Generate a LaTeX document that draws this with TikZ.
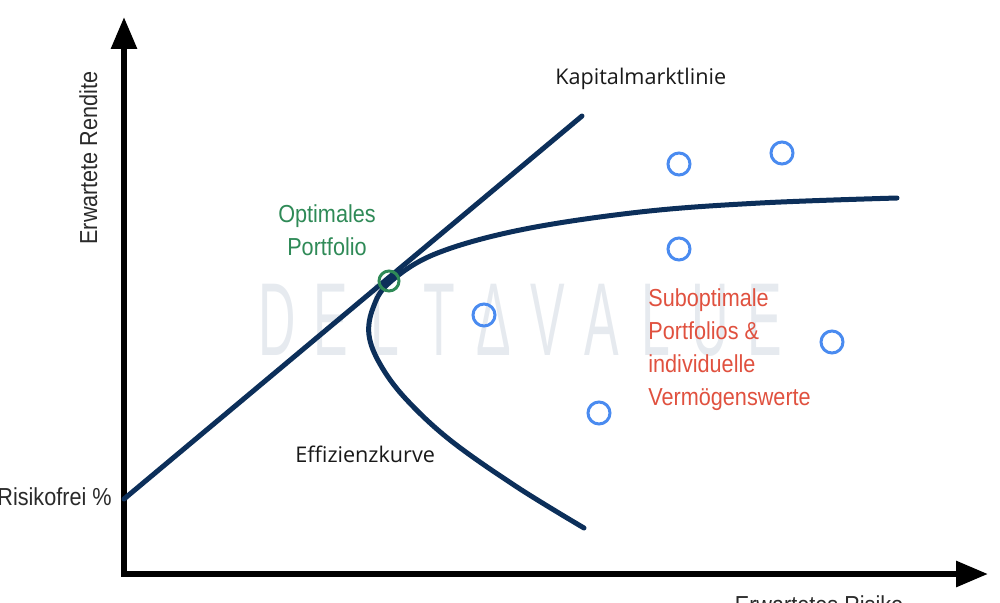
\documentclass[tikz,border=0pt]{standalone}
\usepackage{fontspec}
\setmainfont{Liberation Sans}
\newfontfamily\condfont[FakeStretch=0.88]{Liberation Sans}
\newfontfamily\labfont{Open Sans}
\newfontfamily\wmfont[FakeStretch=0.5]{Liberation Sans}
\usetikzlibrary{arrows.meta}
\definecolor{navy}{HTML}{0C2F5A}
\definecolor{sred}{HTML}{E0513F}
\definecolor{sgreen}{HTML}{2F8A57}
\definecolor{sblue}{HTML}{4A8BF0}
\definecolor{txt}{HTML}{2A2A2A}
\definecolor{wm}{HTML}{E6EAEF}
\tikzset{
  axis/.style={line width=0.12cm, black, {Triangle[length=0.64cm,width=0.5cm]}-{Triangle[length=0.64cm,width=0.5cm]}},
  curve/.style={line width=0.1cm, navy, line cap=round},
  bcirc/.style={circle, draw=sblue, line width=0.06cm, minimum size=0.44cm, inner sep=0pt},
  gcirc/.style={circle, draw=sgreen, line width=0.06cm, minimum size=0.4cm, inner sep=0pt},
  cond/.style={font=\condfont\fontsize{14}{18.8}\selectfont, text=txt, inner sep=0pt},
  lab/.style={font=\labfont\fontsize{12.3}{15}\selectfont, text=black!90, inner sep=0pt},
  wmark/.style={font=\wmfont\fontsize{59}{60}\selectfont, text=wm, inner sep=0pt}
}
\begin{document}
\begin{tikzpicture}[x=0.02cm,y=-0.02cm]
\useasboundingbox (0,0) rectangle (1000,602);
% watermark
\foreach \l [count=\i from 0] in {D,E,L,T,Δ,V,A,L,U,E}
  \node[wmark] (wm\i) at (277+54.2*\i,320) {\l};
% axes
\coordinate (ytip) at (124,17);
\coordinate (O) at (124,574);
\coordinate (xtip) at (988,574);
\draw[axis] (ytip) -- (O) -- (xtip);
% capital market line
\coordinate (rf) at (124,499);
\coordinate (kml) at (582,116);
\draw[curve] (rf) -- (kml);
% efficient frontier
\draw[curve] plot[smooth, tension=0.6] coordinates {(584,528) (517,487) (450,440) (405,398) (380,364) (369,335) (373,308) (389,283) (435,254) (520,230) (640,212) (760,203) (897,198)};
% points
\node[gcirc] (opt) at (389,281) {};
\node[bcirc] (p1) at (679,164) {};
\node[bcirc] (p2) at (782,153) {};
\node[bcirc] (p3) at (679,249) {};
\node[bcirc] (p4) at (484,315) {};
\node[bcirc] (p5) at (832,342) {};
\node[bcirc] (p6) at (599,413) {};
% labels
\node[cond, rotate=90, anchor=base] (ylab) at (97,158) {Erwartete Rendite};
\node[cond, anchor=base] (xlab) at (819,613) {Erwartetes Risiko};
\node[cond, anchor=base east] (rflab) at (112,505) {Risikofrei \%};
\node[lab, anchor=base west] (kmllab) at (555,84) {Kapitalmarktlinie};
\node[lab, anchor=base west] (efflab) at (295,462) {Effizienzkurve};
\node[cond, text=sgreen, align=center, anchor=north] (optlab) at (327,204) {Optimales\\Portfolio};
\node[cond, text=sred, align=left, anchor=north west] (sublab) at (648,288) {Suboptimale\\Portfolios \&\\individuelle\\Vermögenswerte};
\end{tikzpicture}
\end{document}
